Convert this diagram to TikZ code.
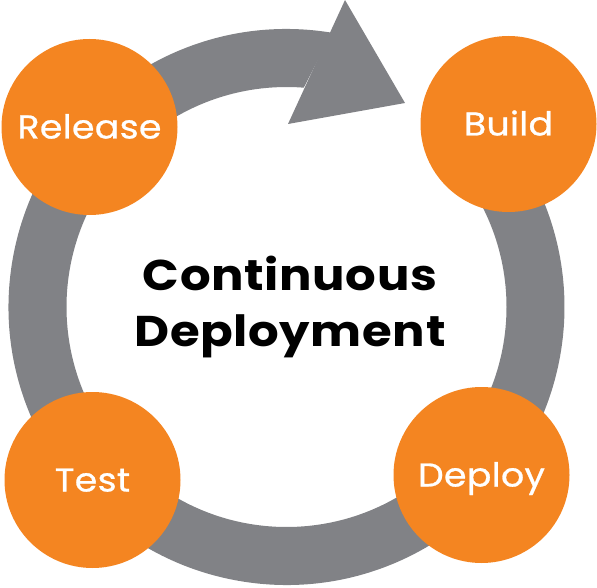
\documentclass[tikz,border=0pt]{standalone}
\usepackage{fontspec}
\setmainfont{Poppins}
\newfontfamily\labelfont[FakeStretch=1.1,FakeBold=0.8,LetterSpace=1]{Poppins}
\newfontfamily\titlefont[FakeStretch=1.12,LetterSpace=1.5]{Poppins}
\definecolor{ringgray}{RGB}{129,130,134}
\definecolor{cdorange}{RGB}{244,133,33}
\begin{document}
\begin{tikzpicture}[x=1pt,y=1pt,
  stage/.style={circle,fill=cdorange,minimum size=176pt,inner sep=0pt,
    text=white,font=\labelfont\fontsize{33}{33}\selectfont,text height=23pt,text depth=0pt},
  title/.style={align=center,font=\titlefont\bfseries\fontsize{43}{56}\selectfont,text=black}]
\useasboundingbox (0,0) rectangle (597,587);
\coordinate (C) at (286.5,280);
% ring with arrow
\fill[ringgray] ([shift={(C)}]80.6:278) arc[start angle=80.6,end angle=405,radius=278]
  -- ([shift={(C)}]405:220) arc[start angle=405,end angle=85.5,radius=220] -- cycle;
\coordinate (barbtop) at (345,587);
\coordinate (tip) at (405,484);
\coordinate (barbbot) at (288,463);
\fill[ringgray] (barbtop) -- (tip) -- (barbbot) -- cycle;
% stages
\node[stage] (release) at (89.5,460) {Release};
\node[stage] (build) at (508.5,463) {Build};
\node[stage] (deploy) at (481.5,112) {Deploy};
\node[stage] (test) at (92.5,107) {Test};
\node[title] (cd) at (290,280) {Continuous\\Deployment};
\end{tikzpicture}
\end{document}
